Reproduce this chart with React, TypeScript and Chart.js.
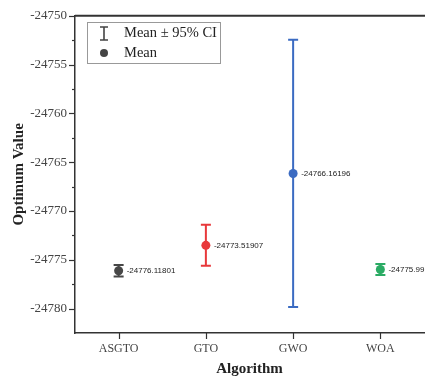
import React, { useEffect, useRef } from "react";
import { Chart, registerables } from "chart.js";

Chart.register(...registerables);

const categories = ["ASGTO", "GTO", "GWO", "WOA"];
const means = [-24776.11801, -24773.51907, -24766.16196, -24775.99];
const ciLow = [-24776.72, -24775.62, -24779.84, -24776.56];
const ciHigh = [-24775.52, -24771.42, -24752.45, -24775.42];
const meanLabels = ["-24776.11801", "-24773.51907", "-24766.16196", "-24775.99"];
const colors = ["#474747", "#e8383b", "#3b6bc2", "#2bab64"];
const yTicks = [-24780, -24775, -24770, -24765, -24760, -24755, -24750];
const yMinorTicks = [-24782.5, -24777.5, -24772.5, -24767.5, -24762.5, -24757.5, -24752.5];
const yMin = -24782.5;
const yMax = -24750;

const overlayPlugin = {
  id: "overlay",
  afterDatasetsDraw(chart: any) {
    const ctx = chart.ctx;
    const x = chart.scales.x;
    const y = chart.scales.y;
    const area = chart.chartArea;
    ctx.save();
    // top border
    ctx.strokeStyle = "#333";
    ctx.lineWidth = 2;
    ctx.beginPath();
    ctx.moveTo(area.left, area.top);
    ctx.lineTo(chart.width, area.top);
    ctx.stroke();
    // y ticks
    ctx.lineWidth = 1.2;
    ctx.strokeStyle = "#333";
    yTicks.forEach((v) => {
      const py = Math.round(y.getPixelForValue(v)) + 0.5;
      ctx.beginPath();
      ctx.moveTo(area.left - 6, py);
      ctx.lineTo(area.left, py);
      ctx.stroke();
    });
    yMinorTicks.forEach((v) => {
      const py = Math.round(y.getPixelForValue(v)) + 0.5;
      if (py > area.bottom - 2) return;
      ctx.beginPath();
      ctx.moveTo(area.left - 3, py);
      ctx.lineTo(area.left, py);
      ctx.stroke();
    });
    categories.forEach((c, i) => {
      const px = Math.round(x.getPixelForValue(i)) + 0.5;
      ctx.beginPath();
      ctx.moveTo(px, area.bottom);
      ctx.lineTo(px, area.bottom + 6);
      ctx.stroke();
    });
    // error bars
    categories.forEach((c, i) => {
      const px = x.getPixelForValue(i);
      const yl = y.getPixelForValue(ciLow[i]);
      const yh = y.getPixelForValue(ciHigh[i]);
      ctx.strokeStyle = colors[i];
      ctx.lineWidth = 2;
      ctx.beginPath();
      ctx.moveTo(px, yl);
      ctx.lineTo(px, yh);
      ctx.moveTo(px - 5, yl);
      ctx.lineTo(px + 5, yl);
      ctx.moveTo(px - 5, yh);
      ctx.lineTo(px + 5, yh);
      ctx.stroke();
      const pm = y.getPixelForValue(means[i]);
      ctx.fillStyle = colors[i];
      ctx.beginPath();
      ctx.arc(px, pm, 4.5, 0, Math.PI * 2);
      ctx.fill();
      ctx.fillStyle = "#222";
      ctx.font = "8px 'Liberation Sans', Arial, sans-serif";
      ctx.textAlign = "left";
      ctx.textBaseline = "middle";
      ctx.fillText(meanLabels[i], px + 8, pm);
    });
    // legend
    ctx.strokeStyle = "#999";
    ctx.lineWidth = 1;
    ctx.strokeRect(87.5, 22.5, 133, 41);
    ctx.strokeStyle = "#444";
    ctx.lineWidth = 1.6;
    ctx.beginPath();
    ctx.moveTo(104, 27);
    ctx.lineTo(104, 40);
    ctx.moveTo(100, 27);
    ctx.lineTo(108, 27);
    ctx.moveTo(100, 40);
    ctx.lineTo(108, 40);
    ctx.stroke();
    ctx.fillStyle = "#444";
    ctx.beginPath();
    ctx.arc(104, 53, 4, 0, Math.PI * 2);
    ctx.fill();
    ctx.fillStyle = "#222";
    ctx.font = "14.5px 'Liberation Serif', 'Times New Roman', serif";
    ctx.textBaseline = "middle";
    ctx.fillText("Mean \u00b1 95% CI", 124, 33);
    ctx.fillText("Mean", 124, 53);
    ctx.restore();
  },
};

export default function App() {
  const ref = useRef<HTMLCanvasElement>(null);
  useEffect(() => {
    document.body.style.margin = "0";
    const serif = "'Liberation Serif', 'Times New Roman', serif";
    const chart = new Chart(ref.current!, {
      type: "line",
      data: {
        labels: categories,
        datasets: [
          {
            data: means,
            showLine: false,
            pointRadius: 0,
            borderColor: "transparent",
          },
        ],
      },
      options: {
        animation: false,
        responsive: false,
        events: [],
        layout: { padding: { top: 14, right: 1, left: 0, bottom: 0 } },
        plugins: { legend: { display: false }, tooltip: { enabled: false } },
        scales: {
          x: {
            type: "category",
            offset: true,
            grid: { display: false, drawTicks: false },
            border: { display: true, color: "#333", width: 1.5 },
            ticks: {
              color: "#444",
              padding: 9,
              font: { family: serif, size: 12 },
            },
            title: {
              display: true,
              text: "Algorithm",
              color: "#222",
              padding: { top: 2, bottom: 0 },
              font: { family: serif, size: 15, weight: "bold" },
            },
            afterFit: (s: any) => {
              s.height = 45;
            },
          },
          y: {
            min: yMin,
            max: yMax,
            grid: { display: false, drawTicks: false },
            border: { display: true, color: "#333", width: 1.5 },
            afterBuildTicks: (s: any) => {
              s.ticks = yTicks.map((v) => ({ value: v }));
            },
            ticks: {
              color: "#444",
              padding: 8,
              font: { family: serif, size: 13 },
              callback: (v: any) => String(v),
            },
            title: {
              display: true,
              text: "Optimum Value",
              color: "#222",
              padding: { top: 10, bottom: 0 },
              font: { family: serif, size: 15, weight: "bold" },
            },
            afterFit: (s: any) => {
              s.width = 75;
            },
          },
        },
      },
      plugins: [overlayPlugin],
    });
    return () => chart.destroy();
  }, []);
  return <canvas ref={ref} width={425} height={378} style={{ display: "block" }} />;
}
